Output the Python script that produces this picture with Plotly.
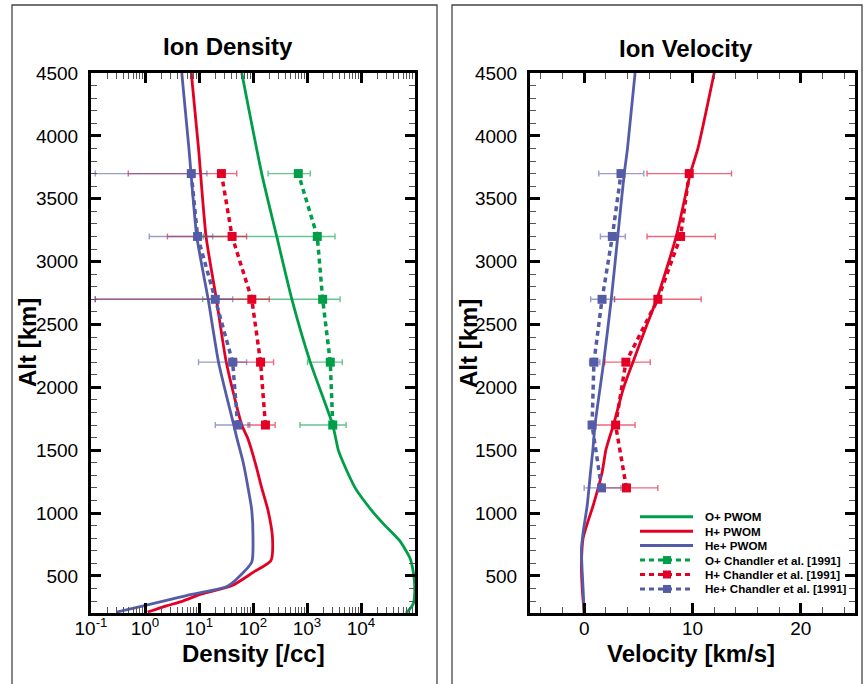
import numpy as np
import plotly.graph_objects as go

W, H = 864, 684

# ---------------- PWOM model profiles ----------------
# O+ density [/cc] vs altitude [km]
pwom_o_alt = [4500, 3700, 3200, 2700, 2200, 1700, 1500, 1400, 1200, 1020, 900, 780, 640, 530, 400, 280, 225, 205]
pwom_o_dens = [62, 145, 275, 525, 1150, 3000, 3800, 4700, 7800, 15800, 28000, 52000, 81000, 93000, 99000, 93000, 76000, 68000]

# H+ density [/cc] vs altitude [km]
pwom_h_alt = [4500, 3900, 3200, 2700, 2200, 1700, 1600, 1400, 1200, 1020, 800, 620, 530, 423, 357, 300, 262, 213]
pwom_h_dens = [7.2, 9.8, 13.5, 21, 32, 62, 79, 110, 145, 190, 230, 214, 102, 41, 11.2, 5.0, 2.5, 1.12]

# He+ density [/cc] vs altitude [km]
pwom_he_alt = [4500, 3900, 3200, 2700, 2200, 1700, 1600, 1400, 1200, 1020, 800, 610, 476, 413, 344, 305, 250, 213]
pwom_he_dens = [4.8, 6.5, 9.1, 14.8, 23, 44, 50, 66, 81, 95, 100, 95, 50, 32, 5.9, 2.5, 0.71, 0.30]

# H+ and He+ field-aligned velocity [km/s] vs altitude [km]
pwom_h_vel_alt = [4500, 3900, 3700, 3200, 2700, 2500, 2200, 2000, 1700, 1590, 1500, 1320, 1060, 930, 800, 580, 400, 205]
pwom_h_vel = [12.0, 10.5, 9.8, 8.5, 6.7, 5.8, 4.5, 3.65, 2.7, 2.3, 2.0, 1.65, 0.83, 0.34, -0.1, -0.25, -0.18, 0.0]
pwom_he_vel_alt = [4500, 3900, 3700, 3200, 2700, 2200, 1700, 1500, 1320, 1060, 850, 715, 530, 400, 205]
pwom_he_vel = [4.7, 4.0, 3.7, 3.1, 2.5, 1.8, 1.0, 0.8, 0.58, 0.28, -0.09, -0.25, -0.18, -0.1, 0.0]

# ---------------- Chandler et al. [1991] observations ----------------
obs_dens_alt = [1700, 2200, 2700, 3200, 3700]
obs_o_dens = [3000, 2700, 1950, 1550, 690]
obs_o_lo = [740, 1020, 11.7, 12, 190]
obs_o_hi = [5300, 4500, 4100, 3300, 1150]
obs_h_dens = [170, 138, 95, 41, 26]
obs_h_lo = [81, 50, 0.12, 2.6, 0.49]
obs_h_hi = [257, 240, 200, 76, 50]
obs_he_dens = [52, 42, 20, 9.4, 7.2]
obs_he_lo = [20, 9.8, 0.12, 1.2, 0.12]
obs_he_hi = [87, 76, 42, 18, 14]

obs_vel_alt = [1200, 1700, 2200, 2700, 3200, 3700]
obs_h_vel = [3.9, 2.9, 3.85, 6.8, 8.9, 9.7]
obs_h_vel_lo = [1.65, 1.0, 1.9, 2.8, 5.8, 5.8]
obs_h_vel_hi = [6.8, 4.7, 6.1, 10.8, 12.1, 13.6]
obs_he_vel = [1.6, 0.73, 0.9, 1.65, 2.6, 3.4]
obs_he_vel_lo = [0.0, 0.45, 0.5, 0.6, 1.5, 1.35]
obs_he_vel_hi = [3.4, 1.0, 1.45, 2.8, 3.8, 5.5]

# Axis ticks
alt_ticks = [500, 1000, 1500, 2000, 2500, 3000, 3500, 4000, 4500]
dens_ticks = [0.1, 1, 10, 100, 1000, 10000]
dens_ticktext = ["10<sup>-1</sup>", "10<sup>0</sup>", "10<sup>1</sup>", "10<sup>2</sup>",
                 "10<sup>3</sup>", "10<sup>4</sup>"]
vel_ticks = [0, 10, 20]

legend_labels = ["O+ PWOM", "H+ PWOM", "He+ PWOM",
                 "O+ Chandler et al. [1991]", "H+ Chandler et al. [1991]",
                 "He+ Chandler et al. [1991]"]

GREEN = "rgb(0,158,72)"
RED = "rgb(228,0,36)"
BLUE = "rgb(84,92,168)"
GREEN_E = "rgba(0,158,72,0.6)"
RED_E = "rgba(228,0,36,0.6)"
BLUE_E = "rgba(84,92,168,0.6)"

FONT = "Liberation Sans, Arial, Helvetica, sans-serif"


def px(x):
    return x / W


def py(y):
    return 1 - y / H


def err(v, lo, hi):
    v, lo, hi = np.asarray(v, float), np.asarray(lo, float), np.asarray(hi, float)
    return dict(type="data", symmetric=False, array=hi - v, arrayminus=v - lo,
                thickness=1.4, width=3)


fig = go.Figure()

# Density panel: model curves
for alt, val, col in [(pwom_o_alt, pwom_o_dens, GREEN),
                      (pwom_h_alt, pwom_h_dens, RED),
                      (pwom_he_alt, pwom_he_dens, BLUE)]:
    fig.add_trace(go.Scatter(x=val, y=alt, mode="lines", showlegend=False,
                             line=dict(color=col, width=2.8, shape="spline", smoothing=0.6),
                             xaxis="x", yaxis="y"))

# Density panel: observations
for val, lo, hi, col, ecol in [(obs_o_dens, obs_o_lo, obs_o_hi, GREEN, GREEN_E),
                               (obs_h_dens, obs_h_lo, obs_h_hi, RED, RED_E),
                               (obs_he_dens, obs_he_lo, obs_he_hi, BLUE, BLUE_E)]:
    e = err(val, lo, hi)
    e["color"] = ecol
    fig.add_trace(go.Scatter(x=val, y=obs_dens_alt, mode="lines+markers", showlegend=False,
                             line=dict(color=col, width=3.5, dash="5px,4px"),
                             marker=dict(symbol="square", size=9, color=col),
                             error_x=e, xaxis="x", yaxis="y"))

# Velocity panel: model curves
for alt, val, col in [(pwom_h_vel_alt, pwom_h_vel, RED),
                      (pwom_he_vel_alt, pwom_he_vel, BLUE)]:
    fig.add_trace(go.Scatter(x=val, y=alt, mode="lines", showlegend=False,
                             line=dict(color=col, width=2.8, shape="spline", smoothing=0.6),
                             xaxis="x2", yaxis="y2"))

# Velocity panel: observations
for val, lo, hi, col, ecol in [(obs_h_vel, obs_h_vel_lo, obs_h_vel_hi, RED, RED_E),
                               (obs_he_vel, obs_he_vel_lo, obs_he_vel_hi, BLUE, BLUE_E)]:
    e = err(val, lo, hi)
    e["color"] = ecol
    fig.add_trace(go.Scatter(x=val, y=obs_vel_alt, mode="lines+markers", showlegend=False,
                             line=dict(color=col, width=3.5, dash="5px,4px"),
                             marker=dict(symbol="square", size=9, color=col),
                             error_x=e, xaxis="x2", yaxis="y2"))

tickfont = dict(family=FONT, size=19, color="black")
common = dict(showline=True, linewidth=3, linecolor="black", mirror="allticks",
              ticks="inside", ticklen=10, tickwidth=2.5, tickcolor="black",
              showgrid=False, zeroline=False, tickfont=tickfont, automargin=False)

log_minor = [m * 10.0 ** d for d in range(-1, 5) for m in range(2, 10)]

y_dom = [py(613), py(73)]
fig.update_layout(
    width=W, height=H, margin=dict(l=0, r=0, t=0, b=0, autoexpand=False),
    paper_bgcolor="white", plot_bgcolor="white", showlegend=False,
    xaxis=dict(type="log", range=[-1, 5], domain=[px(91), px(415)], anchor="y",
               tickmode="array", tickvals=dens_ticks, ticktext=dens_ticktext,
               minor=dict(tickvals=log_minor, ticks="inside", ticklen=6, tickwidth=1.3,
                          tickcolor="#555555"),
               ticklabelstandoff=-4, **common),
    yaxis=dict(range=[205, 4500], domain=y_dom, anchor="x",
               tickmode="array", tickvals=alt_ticks,
               minor=dict(dtick=100, tick0=0, ticks="inside", ticklen=6, tickwidth=1.3,
                          tickcolor="#555555"),
               ticklabelstandoff=6, **common),
    xaxis2=dict(range=[-5, 25], domain=[px(530), px(855)], anchor="y2",
                tickmode="array", tickvals=vel_ticks,
                minor=dict(dtick=2, tick0=0, ticks="inside", ticklen=6, tickwidth=1.3,
                           tickcolor="#555555"),
                ticklabelstandoff=-4, **common),
    yaxis2=dict(range=[205, 4500], domain=y_dom, anchor="x2",
                tickmode="array", tickvals=alt_ticks,
                minor=dict(dtick=100, tick0=0, ticks="inside", ticklen=6, tickwidth=1.3,
                           tickcolor="#555555"),
                ticklabelstandoff=6, **common),
)

bold = dict(family=FONT, size=24, color="black")
ann = []
ann.append(dict(text="<b>Ion Density</b>", x=px(228), y=py(46), xref="paper", yref="paper",
                showarrow=False, font=bold, xanchor="center", yanchor="middle"))
ann.append(dict(text="<b>Ion Velocity</b>", x=px(686), y=py(48), xref="paper", yref="paper",
                showarrow=False, font=bold, xanchor="center", yanchor="middle"))
ann.append(dict(text="<b>Density [/cc]</b>", x=px(253), y=py(653), xref="paper", yref="paper",
                showarrow=False, font=bold, xanchor="center", yanchor="middle"))
ann.append(dict(text="<b>Velocity [km/s]</b>", x=px(691), y=py(653), xref="paper", yref="paper",
                showarrow=False, font=bold, xanchor="center", yanchor="middle"))
for xc in (27, 468):
    ann.append(dict(text="<b>Alt [km]</b>", x=px(xc), y=py(343), xref="paper", yref="paper",
                    showarrow=False, font=bold, textangle=-90,
                    xanchor="center", yanchor="middle"))

# Legend
leg_cols = [GREEN, RED, BLUE, GREEN, RED, BLUE]
shapes = []
row0, dy = 516.7, 14.45
for i, (lab, col) in enumerate(zip(legend_labels, leg_cols)):
    yy = row0 + i * dy
    dashed = i >= 3
    shapes.append(dict(type="line", xref="paper", yref="paper",
                       x0=px(640), x1=px(693), y0=py(yy), y1=py(yy),
                       line=dict(color=col, width=3, dash="5px,4px" if dashed else "solid")))
    if dashed:
        shapes.append(dict(type="rect", xref="paper", yref="paper",
                           x0=px(663), x1=px(671), y0=py(yy + 4), y1=py(yy - 4),
                           fillcolor=col, line=dict(width=0)))
    ann.append(dict(text="<b>" + lab + "</b>", x=px(703), y=py(yy), xref="paper", yref="paper",
                    showarrow=False, xanchor="left", yanchor="middle",
                    font=dict(family=FONT, size=11.6, color="black")))

# Panel frames
for x0, x1 in [(12, 437), (452, 862)]:
    shapes.append(dict(type="rect", xref="paper", yref="paper",
                       x0=px(x0), x1=px(x1), y0=py(700), y1=py(5),
                       line=dict(color="#444444", width=1.3), layer="below"))

fig.update_layout(annotations=ann, shapes=shapes)

fig.write_html("out.html")
